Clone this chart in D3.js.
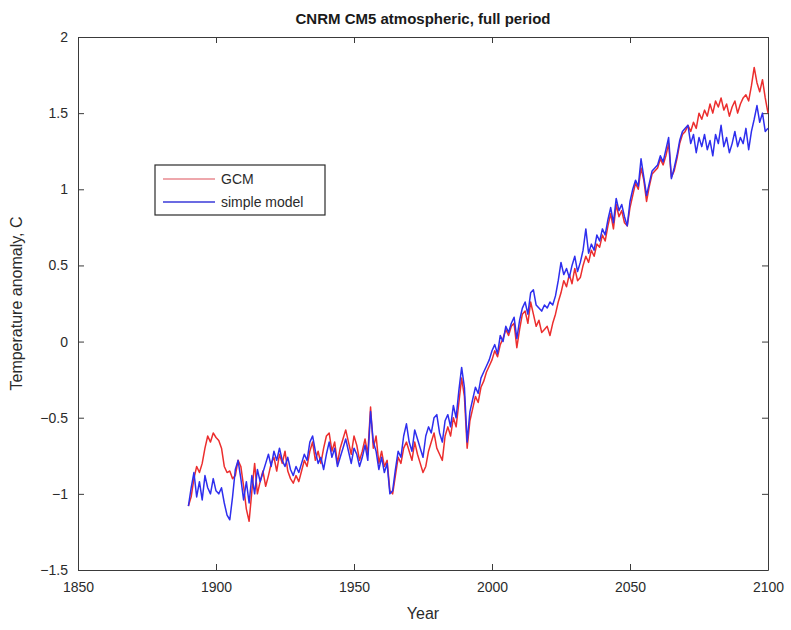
<!DOCTYPE html>
<html>
<head>
<meta charset="utf-8">
<script src="https://cdn.jsdelivr.net/npm/d3@7/dist/d3.min.js"></script>
<style>
  html, body { margin: 0; padding: 0; background: #fff; }
  svg { display: block; font-family: "Liberation Sans", Arial, Helvetica, sans-serif; }
</style>
</head>
<body>
<svg id="chart" width="791" height="630"></svg>
<script>
// Annual temperature anomaly (C), 1890-2100
const startYear = 1890;
const gcm = [
  -1.08, -1.02, -0.90, -0.82, -0.86, -0.80, -0.70, -0.62, -0.66, -0.60,
  -0.63, -0.65, -0.70, -0.82, -0.86, -0.85, -0.90, -0.88, -0.78, -0.82,
  -0.95, -1.10, -1.18, -0.98, -0.80, -1.00, -0.92, -0.85, -0.95, -0.88,
  -0.80, -0.76, -0.85, -0.74, -0.80, -0.72, -0.85, -0.90, -0.93, -0.88,
  -0.92, -0.85, -0.78, -0.82, -0.72, -0.66, -0.78, -0.72, -0.80, -0.70,
  -0.62, -0.60, -0.72, -0.66, -0.80, -0.70, -0.64, -0.58, -0.66, -0.74,
  -0.62, -0.68, -0.78, -0.72, -0.64, -0.74, -0.43, -0.70, -0.62, -0.80,
  -0.72, -0.82, -0.78, -0.98, -1.00, -0.88, -0.76, -0.80, -0.70, -0.66,
  -0.72, -0.78, -0.66, -0.74, -0.80, -0.86, -0.82, -0.72, -0.66, -0.60,
  -0.70, -0.74, -0.78, -0.62, -0.56, -0.62, -0.50, -0.56, -0.40, -0.24,
  -0.36, -0.70, -0.52, -0.44, -0.36, -0.40, -0.30, -0.26, -0.20, -0.16,
  -0.12, -0.06, -0.10, -0.02, 0.02, 0.08, 0.04, 0.10, 0.12, -0.04,
  0.08, 0.18, 0.20, 0.12, 0.26, 0.18, 0.10, 0.14, 0.06, 0.08,
  0.10, 0.04, 0.12, 0.18, 0.26, 0.32, 0.40, 0.36, 0.44, 0.38,
  0.48, 0.40, 0.42, 0.50, 0.56, 0.52, 0.60, 0.56, 0.64, 0.62,
  0.70, 0.66, 0.76, 0.84, 0.74, 0.90, 0.82, 0.86, 0.78, 0.76,
  0.88, 0.96, 1.04, 1.00, 1.14, 1.06, 0.92, 1.02, 1.10, 1.12,
  1.14, 1.20, 1.16, 1.22, 1.30, 1.08, 1.12, 1.20, 1.30, 1.36,
  1.38, 1.42, 1.38, 1.44, 1.40, 1.50, 1.46, 1.52, 1.48, 1.56,
  1.50, 1.58, 1.54, 1.60, 1.52, 1.56, 1.48, 1.54, 1.58, 1.50,
  1.56, 1.60, 1.62, 1.58, 1.68, 1.80, 1.70, 1.64, 1.72, 1.60,
  1.50
];
const simpleModel = [
  -1.08, -0.96, -0.86, -1.02, -0.92, -1.04, -0.88, -0.96, -1.00, -0.90,
  -0.98, -1.00, -0.96, -1.06, -1.14, -1.17, -1.02, -0.84, -0.78, -0.90,
  -1.04, -0.92, -1.06, -0.88, -1.00, -0.84, -0.92, -0.86, -0.80, -0.74,
  -0.82, -0.72, -0.78, -0.70, -0.78, -0.82, -0.76, -0.84, -0.88, -0.82,
  -0.86, -0.80, -0.74, -0.78, -0.66, -0.62, -0.72, -0.80, -0.76, -0.84,
  -0.74, -0.66, -0.76, -0.70, -0.82, -0.76, -0.70, -0.64, -0.72, -0.80,
  -0.70, -0.74, -0.82, -0.76, -0.68, -0.78, -0.46, -0.66, -0.72, -0.84,
  -0.76, -0.86, -0.80, -1.00, -0.98, -0.84, -0.72, -0.76, -0.62, -0.54,
  -0.66, -0.72, -0.58, -0.64, -0.70, -0.76, -0.62, -0.56, -0.60, -0.50,
  -0.48, -0.60, -0.66, -0.52, -0.48, -0.56, -0.42, -0.50, -0.32, -0.17,
  -0.30, -0.66, -0.46, -0.38, -0.30, -0.34, -0.24, -0.20, -0.16, -0.12,
  -0.06, -0.02, -0.08, 0.04, 0.00, 0.10, 0.06, 0.12, 0.16, 0.02,
  0.14, 0.22, 0.26, 0.18, 0.32, 0.34, 0.24, 0.22, 0.20, 0.24,
  0.22, 0.26, 0.24, 0.30, 0.40, 0.52, 0.44, 0.48, 0.42, 0.50,
  0.56, 0.46, 0.52, 0.60, 0.74, 0.58, 0.64, 0.60, 0.70, 0.66,
  0.74, 0.70, 0.80, 0.88, 0.78, 0.94, 0.86, 0.90, 0.82, 0.76,
  0.92, 1.00, 1.06, 1.02, 1.20, 1.08, 0.96, 1.04, 1.12, 1.14,
  1.16, 1.22, 1.18, 1.26, 1.34, 1.07, 1.14, 1.22, 1.32, 1.38,
  1.40, 1.42, 1.30, 1.36, 1.24, 1.34, 1.28, 1.36, 1.26, 1.32,
  1.22, 1.36, 1.30, 1.42, 1.28, 1.34, 1.24, 1.30, 1.38, 1.28,
  1.34, 1.30, 1.40, 1.26, 1.38, 1.46, 1.55, 1.44, 1.50, 1.38,
  1.40
];
const xTicks = [1850, 1900, 1950, 2000, 2050, 2100];
const yTicks = [-1.5, -1, -0.5, 0, 0.5, 1, 1.5, 2];
const seriesNames = ["GCM", "simple model"];
const seriesColors = ["#ec2e2e", "#2e2eee"];

const svg = d3.select("#chart");
const margin = { left: 78, top: 37, right: 23, bottom: 60 };
const W = 791, H = 630;
const iw = W - margin.left - margin.right;
const ih = H - margin.top - margin.bottom;

const x = d3.scaleLinear().domain([1850, 2100]).range([0, iw]);
const y = d3.scaleLinear().domain([-1.5, 2]).range([ih, 0]);

const g = svg.append("g").attr("transform", `translate(${margin.left},${margin.top})`);
const axisColor = "#3a3a3a";
const tickLen = 6;

// inward ticks on all four sides (boxed axes)
const fmtY = d => d3.format("")(d);
const bottomAx = g.append("g").attr("transform", `translate(0,${ih})`)
  .call(d3.axisBottom(x).tickValues(xTicks).tickFormat(d3.format("d")).tickSizeInner(-tickLen).tickSizeOuter(0).tickPadding(12));
const leftAx = g.append("g")
  .call(d3.axisLeft(y).tickValues(yTicks).tickFormat(fmtY).tickSizeInner(-tickLen).tickSizeOuter(0).tickPadding(10));
const topAx = g.append("g")
  .call(d3.axisTop(x).tickValues(xTicks).tickFormat("").tickSizeInner(-tickLen).tickSizeOuter(0));
const rightAx = g.append("g").attr("transform", `translate(${iw},0)`)
  .call(d3.axisRight(y).tickValues(yTicks).tickFormat("").tickSizeInner(-tickLen).tickSizeOuter(0));

[bottomAx, leftAx, topAx, rightAx].forEach(a => {
  a.selectAll("path.domain").attr("stroke", axisColor).attr("stroke-width", 1);
  a.selectAll(".tick line").attr("stroke", axisColor).attr("stroke-width", 1);
  a.selectAll(".tick text").attr("fill", "#2b2b2b").style("font-size", "14px");
});

// series lines
const years = d3.range(startYear, startYear + gcm.length);
const line = d3.line().x((d, i) => x(years[i])).y(d => y(d));
[gcm, simpleModel].forEach((s, k) => {
  g.append("path").datum(s)
    .attr("fill", "none")
    .attr("stroke", seriesColors[k])
    .attr("stroke-width", 1.5)
    .attr("stroke-linejoin", "round")
    .attr("d", line);
});

// title and axis labels
svg.append("text").attr("x", margin.left + iw / 2).attr("y", 24)
  .attr("text-anchor", "middle").style("font-size", "15px").style("font-weight", "bold")
  .attr("fill", "#1a1a1a").text("CNRM CM5 atmospheric, full period");
svg.append("text").attr("x", margin.left + iw / 2).attr("y", 619)
  .attr("text-anchor", "middle").style("font-size", "16px").attr("fill", "#2b2b2b").text("Year");
svg.append("text")
  .attr("transform", `translate(22,${margin.top + ih / 2}) rotate(-90)`)
  .attr("text-anchor", "middle").style("font-size", "16px").attr("fill", "#2b2b2b")
  .text("Temperature anomaly, C");

// legend
const lg = svg.append("g").attr("transform", "translate(155,165)");
lg.append("rect").attr("width", 170).attr("height", 50)
  .attr("fill", "#fff").attr("stroke", "#2b2b2b").attr("stroke-width", 1.2);
seriesNames.forEach((name, k) => {
  const yy = 14 + k * 23;
  lg.append("line").attr("x1", 8).attr("x2", 60).attr("y1", yy).attr("y2", yy)
    .attr("stroke", k === 0 ? "#e88a90" : "#3a3ad8").attr("stroke-width", 1.3);
  lg.append("text").attr("x", 66).attr("y", yy + 5).style("font-size", "14px")
    .attr("fill", "#2b2b2b").text(name);
});
</script>
</body>
</html>
